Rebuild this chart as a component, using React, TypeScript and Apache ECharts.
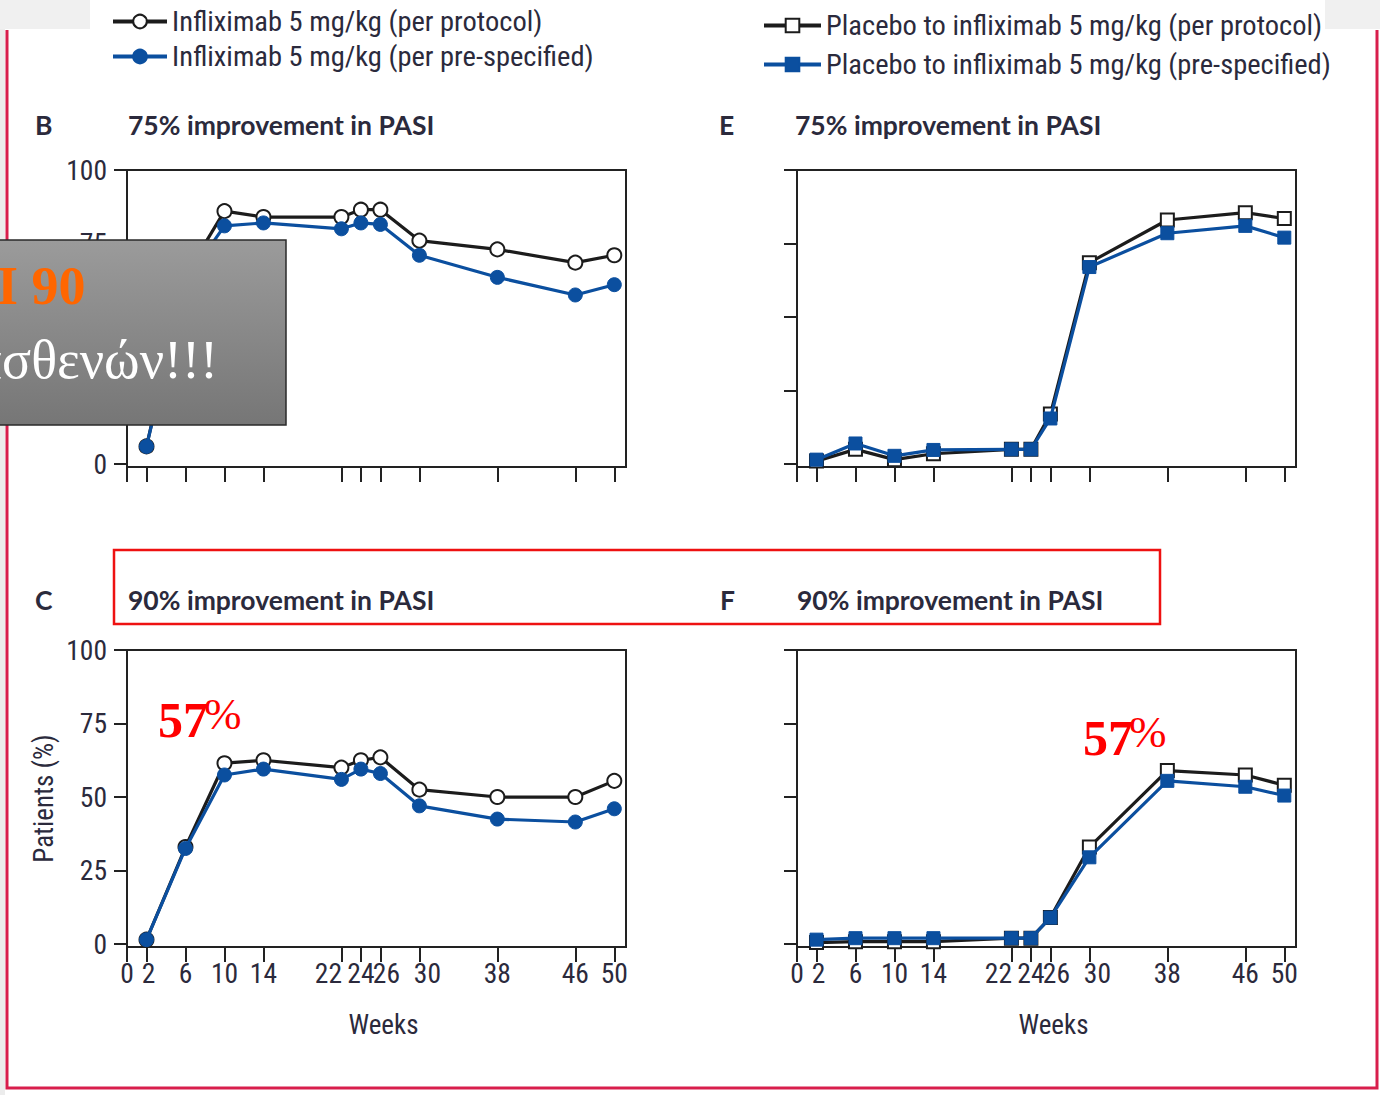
import React, { useEffect, useRef } from "react";
import * as echarts from "echarts";

// ---- data ----
const weeks = [2, 6, 10, 14, 22, 24, 26, 30, 38, 46, 50];
const weekTicks = [0, 2, 6, 10, 14, 22, 24, 26, 30, 38, 46, 50];
const yTicks = [0, 25, 50, 75, 100];

const nameInfProtocol = "Infliximab 5 mg/kg (per protocol)";
const nameInfPrespec = "Infliximab 5 mg/kg (per pre-specified)";
const namePlaProtocol = "Placebo to infliximab 5 mg/kg (per protocol)";
const namePlaPrespec = "Placebo to infliximab 5 mg/kg (pre-specified)";

// Panel B: 75% improvement, infliximab
const infPasi75Protocol = [6, 64, 86, 84, 84, 86.5, 86.5, 76, 73, 68.5, 71];
const infPasi75Prespec = [6, 62, 81, 82, 80, 82, 81.5, 71, 63.5, 57.5, 61];
// Panel E: 75% improvement, placebo -> infliximab
const plaPasi75Protocol = [1, 5, 1.5, 3.5, 5, 5, 17, 68.5, 83, 85.5, 83.5];
const plaPasi75Prespec = [1.5, 7, 2.8, 4.8, 5, 5, 15.5, 67, 78.5, 81, 77];
// Panel C: 90% improvement, infliximab
const infPasi90Protocol = [1.5, 33, 61.5, 62.5, 60, 62.5, 63.5, 52.5, 50, 50, 55.5];
const infPasi90Prespec = [1.5, 32.5, 57.5, 59.5, 56, 59.5, 58, 47, 42.5, 41.5, 46];
// Panel F: 90% improvement, placebo -> infliximab
const plaPasi90Protocol = [0.5, 0.8, 0.8, 0.8, 2, 2, 9, 33, 59, 57.5, 54];
const plaPasi90Prespec = [1.5, 2, 2, 2, 2, 2, 9, 29.5, 55.5, 53.5, 50.5];

const NARROW = '"Liberation Sans Narrow", "Arial Narrow", "Roboto Condensed", sans-serif';
const TITLE = 'Lato, "Noto Sans", sans-serif';
const SERIF = '"Liberation Serif", "DejaVu Serif", serif';
const TEXT = "#2b2a3c";
const AXIS = "#222222";
const BLACK = "#1c1c1c";
const BLUE = "#0b4f9f";

function pts(arr: number[]) {
  return weeks.map((w, i) => [w, arr[i]]);
}

function makeSeries(name: string, data: number[], idx: number, kind: "circle" | "rect", filled: boolean) {
  const col = filled ? BLUE : BLACK;
  return {
    type: "line",
    name,
    xAxisIndex: idx,
    yAxisIndex: idx,
    data: pts(data),
    symbol: kind,
    symbolSize: kind === "circle" ? 14 : 13,
    z: filled ? 4 : 3,
    lineStyle: { color: col, width: 3.2 },
    itemStyle: filled
      ? { color: BLUE, borderColor: BLUE, borderWidth: 1 }
      : { color: "#ffffff", borderColor: BLACK, borderWidth: 2 },
    emphasis: { disabled: true },
  };
}

export default function App() {
  const ref = useRef<HTMLDivElement>(null);

  useEffect(() => {
    document.body.style.margin = "0";
    if (!ref.current) return;
    const chart = echarts.init(ref.current, undefined, { renderer: "svg" });

    const grids = [
      { left: 127, top: 170, width: 499, height: 297 },
      { left: 797, top: 170, width: 499, height: 297 },
      { left: 127, top: 650, width: 499, height: 297 },
      { left: 797, top: 650, width: 499, height: 297 },
    ].map((g) => ({ ...g, show: true, borderColor: AXIS, borderWidth: 2, backgroundColor: "transparent" }));

    const tickFont = { fontFamily: NARROW, fontSize: 27.5, color: TEXT };

    // horizontal nudges (rich-text spacers) so crowded week labels sit as in the figure
    const richLabels = {
      n: { ...tickFont },
      gap4: { ...tickFont, width: 4 },
      gap12: { ...tickFont, width: 12 },
      gap16: { ...tickFont, width: 16 },
      gap26: { ...tickFont, width: 26 },
    };
    const formatWeek = (v: number) => {
      const s = String(v);
      if (s === "2") return `{gap4| }{n|${s}}`;
      if (s === "26") return `{gap12| }{n|${s}}`;
      if (s === "30") return `{gap16| }{n|${s}}`;
      if (s === "22") return `{n|${s}}{gap26| }`;
      return `{n|${s}}`;
    };

    const xAxes = [0, 1, 2, 3].map((i) => ({
      gridIndex: i,
      type: "value",
      min: 0,
      max: 51.2,
      name: i >= 2 ? "Weeks" : "",
      nameLocation: "middle",
      nameGap: 64,
      nameTextStyle: { fontFamily: NARROW, fontSize: 27, color: TEXT, padding: [0, 0, 0, 14] },
      axisLine: { show: true, onZero: false, lineStyle: { color: AXIS, width: 2 } },
      axisTick: { show: true, customValues: weekTicks, length: 15, lineStyle: { color: AXIS, width: 2 } },
      axisLabel: {
        show: i >= 2,
        customValues: weekTicks,
        margin: 12,
        hideOverlap: false,
        ...tickFont,
        formatter: formatWeek,
        rich: richLabels,
      },
      splitLine: { show: false },
    }));

    const yAxes = [0, 1, 2, 3].map((i) => ({
      gridIndex: i,
      type: "value",
      min: -1,
      max: 100,
      name: i === 2 ? "Patients (%)" : "",
      nameLocation: "middle",
      nameGap: 70,
      nameRotate: 90,
      nameTextStyle: { fontFamily: NARROW, fontSize: 27, color: TEXT },
      axisLine: { show: true, onZero: false, lineStyle: { color: AXIS, width: 2 } },
      axisTick: { show: true, customValues: yTicks, length: 13, lineStyle: { color: AXIS, width: 2 } },
      axisLabel: {
        show: i === 0 || i === 2,
        customValues: yTicks,
        margin: 20,
        ...tickFont,
      },
      splitLine: { show: false },
    }));

    const series = [
      makeSeries(nameInfProtocol, infPasi75Protocol, 0, "circle", false),
      makeSeries(nameInfPrespec, infPasi75Prespec, 0, "circle", true),
      makeSeries(namePlaProtocol, plaPasi75Protocol, 1, "rect", false),
      makeSeries(namePlaPrespec, plaPasi75Prespec, 1, "rect", true),
      makeSeries(nameInfProtocol, infPasi90Protocol, 2, "circle", false),
      makeSeries(nameInfPrespec, infPasi90Prespec, 2, "circle", true),
      makeSeries(namePlaProtocol, plaPasi90Protocol, 3, "rect", false),
      makeSeries(namePlaPrespec, plaPasi90Prespec, 3, "rect", true),
    ];

    const legendText = { fontFamily: NARROW, fontSize: 28.5, color: TEXT, lineHeight: 29 };

    const titleFont = `bold 26.5px ${TITLE}`;

    const graphic: any[] = [
      // slide background artefacts
      { type: "rect", shape: { x: 0, y: 0, width: 90, height: 29 }, style: { fill: "#f0f0f0" }, silent: true },
      { type: "rect", shape: { x: 1325, y: 0, width: 55, height: 29 }, style: { fill: "#f0f0f0" }, silent: true },
      { type: "rect", shape: { x: 0, y: 29, width: 5, height: 1066 }, style: { fill: "#ececec" }, silent: true },
      {
        type: "polyline",
        shape: { points: [[7, 30], [7, 1088], [1377, 1088], [1377, 30]] },
        style: { stroke: "#d81e4c", lineWidth: 3, fill: "none" },
        silent: true,
      },
      // panel letters and titles
      { type: "text", style: { text: "B", x: 35, y: 125, font: titleFont, fill: TEXT, verticalAlign: "middle" } },
      { type: "text", style: { text: "75% improvement in PASI", x: 128, y: 125, font: titleFont, fill: TEXT, verticalAlign: "middle" } },
      { type: "text", style: { text: "E", x: 719, y: 125, font: titleFont, fill: TEXT, verticalAlign: "middle" } },
      { type: "text", style: { text: "75% improvement in PASI", x: 795, y: 125, font: titleFont, fill: TEXT, verticalAlign: "middle" } },
      { type: "text", style: { text: "C", x: 35, y: 600, font: titleFont, fill: TEXT, verticalAlign: "middle" } },
      { type: "text", style: { text: "90% improvement in PASI", x: 128, y: 600, font: titleFont, fill: TEXT, verticalAlign: "middle" } },
      { type: "text", style: { text: "F", x: 720, y: 600, font: titleFont, fill: TEXT, verticalAlign: "middle" } },
      { type: "text", style: { text: "90% improvement in PASI", x: 797, y: 600, font: titleFont, fill: TEXT, verticalAlign: "middle" } },
      // red highlight frame
      {
        type: "rect",
        shape: { x: 114, y: 550, width: 1046, height: 74 },
        style: { stroke: "#ee1111", lineWidth: 2.5, fill: "none" },
        silent: true,
      },
      // 57% annotations
      { type: "text", z: 50, style: { text: "57", x: 158, y: 745, font: `bold 50px ${SERIF}`, fill: "#ff0000", verticalAlign: "bottom" } },
      { type: "text", z: 50, style: { text: "%", x: 204, y: 736, font: `45px ${SERIF}`, fill: "#ff0000", verticalAlign: "bottom" } },
      { type: "text", z: 50, style: { text: "57", x: 1083, y: 763, font: `bold 50px ${SERIF}`, fill: "#ff0000", verticalAlign: "bottom" } },
      { type: "text", z: 50, style: { text: "%", x: 1129, y: 754, font: `45px ${SERIF}`, fill: "#ff0000", verticalAlign: "bottom" } },
      // grey overlay box
      {
        type: "rect",
        z: 100,
        shape: { x: -2, y: 240, width: 288, height: 185 },
        style: {
          fill: new echarts.graphic.LinearGradient(0, 0, 0, 1, [
            { offset: 0, color: "#9b9b9b" },
            { offset: 1, color: "#767676" },
          ]),
          stroke: "#2a2a2a",
          lineWidth: 1.5,
        },
      },
      { type: "text", z: 101, style: { text: "I 90", x: -3, y: 286, font: `bold 54px ${SERIF}`, fill: "#ff6600", verticalAlign: "middle" } },
      { type: "text", z: 101, style: { text: "ασθενών!!!", x: 218, y: 360, font: `54px ${SERIF}`, fill: "#ffffff", align: "right", verticalAlign: "middle" } },
    ];

    chart.setOption({
      animation: false,
      backgroundColor: "#ffffff",
      grid: grids,
      xAxis: xAxes,
      yAxis: yAxes,
      series,
      legend: [
        {
          data: [nameInfProtocol, nameInfPrespec],
          orient: "vertical",
          left: 106,
          top: 2,
          itemWidth: 54,
          itemHeight: 17,
          itemGap: 6,
          selectedMode: false,
          lineStyle: { width: 4 },
          textStyle: legendText,
        },
        {
          data: [namePlaProtocol, namePlaPrespec],
          orient: "vertical",
          left: 757,
          top: 6,
          itemWidth: 57,
          itemHeight: 17,
          itemGap: 10,
          selectedMode: false,
          lineStyle: { width: 4 },
          textStyle: legendText,
        },
      ],
      graphic,
    });

    return () => chart.dispose();
  }, []);

  return <div ref={ref} style={{ width: 1380, height: 1095 }} />;
}
